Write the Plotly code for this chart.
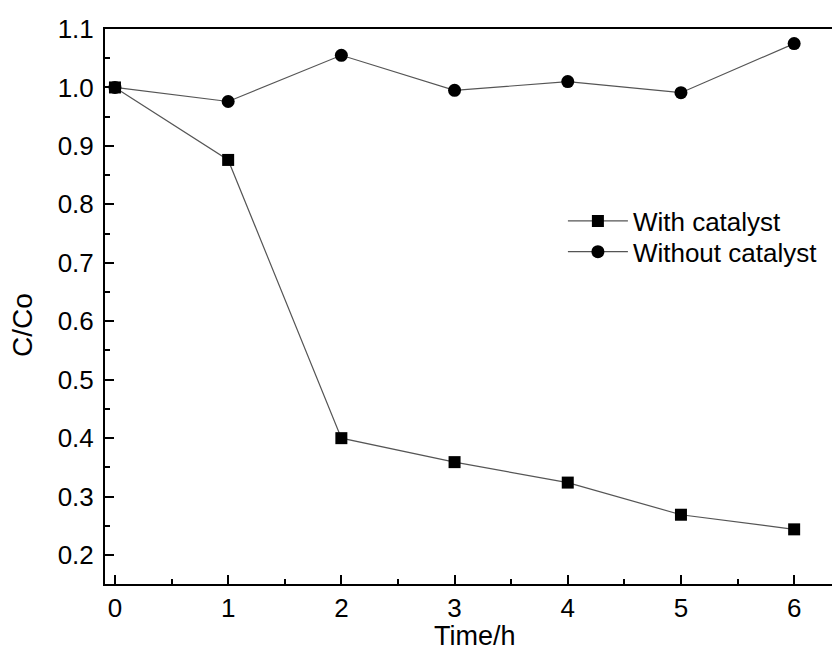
import plotly.graph_objects as go

time_h = [0, 1, 2, 3, 4, 5, 6]
with_catalyst = [1.0, 0.876, 0.40, 0.359, 0.324, 0.269, 0.244]
without_catalyst = [1.0, 0.976, 1.055, 0.995, 1.01, 0.991, 1.075]

FONT = "Liberation Sans, Arial, sans-serif"

fig = go.Figure()
fig.add_trace(go.Scatter(
    x=time_h, y=with_catalyst, mode="lines+markers", name="With catalyst",
    line=dict(color="#555555", width=1.2),
    marker=dict(symbol="square", size=12, color="black"),
    legend="legend",
))
fig.add_trace(go.Scatter(
    x=time_h, y=without_catalyst, mode="lines+markers", name="Without catalyst",
    line=dict(color="#555555", width=1.2),
    marker=dict(symbol="circle", size=13, color="black"),
    legend="legend2",
))

leg_common = dict(xanchor="left", yanchor="top", bgcolor="rgba(0,0,0,0)",
                  font=dict(size=26), itemwidth=60)

# page has an 8px body margin; compensate
fig.update_layout(
    width=832, height=643,
    margin=dict(l=97, r=0, t=21, b=67),
    paper_bgcolor="white", plot_bgcolor="white",
    font=dict(family=FONT, size=26, color="black"),
    showlegend=True,
    legend=dict(x=0.623, y=0.6964, **leg_common),
    legend2=dict(x=0.623, y=0.641, **leg_common),
    annotations=[
        dict(text="Time/h", xref="paper", yref="paper", x=0.503, y=0,
             xanchor="center", yanchor="middle", yshift=-52, showarrow=False,
             font=dict(size=27)),
        dict(text="C/Co", xref="paper", yref="paper", x=0, y=0.4667,
             xanchor="center", yanchor="middle", xshift=-82, textangle=-90,
             showarrow=False, font=dict(size=28)),
    ],
)
fig.update_xaxes(
    range=[-0.088, 6.405], tickvals=time_h, ticks="inside", ticklen=9, tickwidth=1.5,
    tickcolor="black", showline=True, linecolor="black", linewidth=2, mirror=True,
    showgrid=False, zeroline=False, ticklabelstandoff=0,
    minor=dict(ticks="inside", ticklen=5, tickwidth=1.5, tickcolor="black", dtick=0.5, tick0=0, showgrid=False),
    tickfont=dict(size=26),
)
fig.update_yaxes(
    range=[0.1505, 1.1], dtick=0.1, tick0=0.2, tickformat=".1f", ticks="inside", ticklen=9, tickwidth=1.5,
    tickcolor="black", showline=True, linecolor="black", linewidth=2, mirror=False,
    showgrid=False, zeroline=False, ticklabelstandoff=4,
    minor=dict(ticks="inside", ticklen=5, tickwidth=1.5, tickcolor="black", dtick=0.05, tick0=0.15, showgrid=False),
    tickfont=dict(size=26),
)

fig.write_html("out.html")
